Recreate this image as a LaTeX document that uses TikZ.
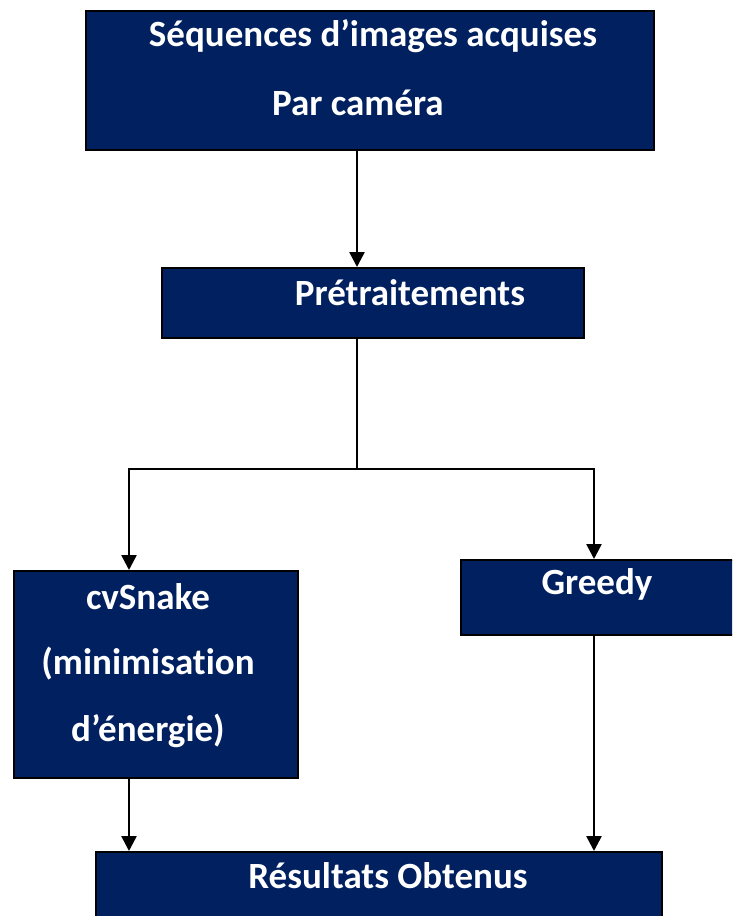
\documentclass[tikz,border=0pt]{standalone}
\usepackage{fontspec}
\setmainfont[Ligatures={NoCommon}]{Carlito}
\usetikzlibrary{arrows.meta}
\definecolor{navy}{RGB}{0,32,96}
\begin{document}
\begin{tikzpicture}[x=1pt,y=-1pt,
  box/.style={draw=black,line width=2.2pt,fill=navy,anchor=north west,inner sep=0pt},
  lbl/.style={text=white,font=\fontsize{37}{44}\selectfont\bfseries,inner sep=0pt,anchor=center},
  arr/.style={line width=2.6pt,-{Triangle[length=15pt,width=15pt]}},
  ln/.style={line width=2.6pt}]
\useasboundingbox (0,0) rectangle (732,916);
\begin{scope}
\clip (0,0) rectangle (732,916);
\node[box,minimum width=568pt,minimum height=139pt] (b1) at (85,10) {};
\node[box,minimum width=422pt,minimum height=70pt] (b2) at (161,267) {};
\node[box,minimum width=284pt,minimum height=207pt] (b3) at (13,570) {};
\node[box,minimum width=276pt,minimum height=75pt] (b4) at (460,559) {};
\node[box,minimum width=566pt,minimum height=80pt] (b5) at (95,851) {};
\end{scope}
\node[lbl] (t1a) at (373,36) {Séquences d’images acquises};
\node[lbl] (t1b) at (358,103) {Par caméra};
\node[lbl] (t2) at (410,293) {Prétraitements};
\node[lbl] (t3a) at (148,597) {cvSnake};
\node[lbl] (t3b) at (148,664) {(minimisation};
\node[lbl] (t3c) at (148,731) {d’énergie)};
\node[lbl] (t4) at (597,584) {Greedy};
\node[lbl] (t5) at (388,876) {Résultats Obtenus};
\coordinate (j) at (357,469);
\coordinate (jl) at (129,469);
\coordinate (jr) at (594,469);
\draw[arr] (b1.south -| j) -- (b2.north -| j);
\draw[ln] (b2.south -| j) -- (j);
\draw[ln,line cap=rect] (jl) -- (jr);
\draw[arr] (jl) -- (b3.north -| jl);
\draw[arr] (jr) -- (b4.north -| jr);
\draw[arr] (b3.south -| jl) -- (b5.north -| jl);
\draw[arr] (b4.south -| jr) -- (b5.north -| jr);
\end{tikzpicture}
\end{document}
